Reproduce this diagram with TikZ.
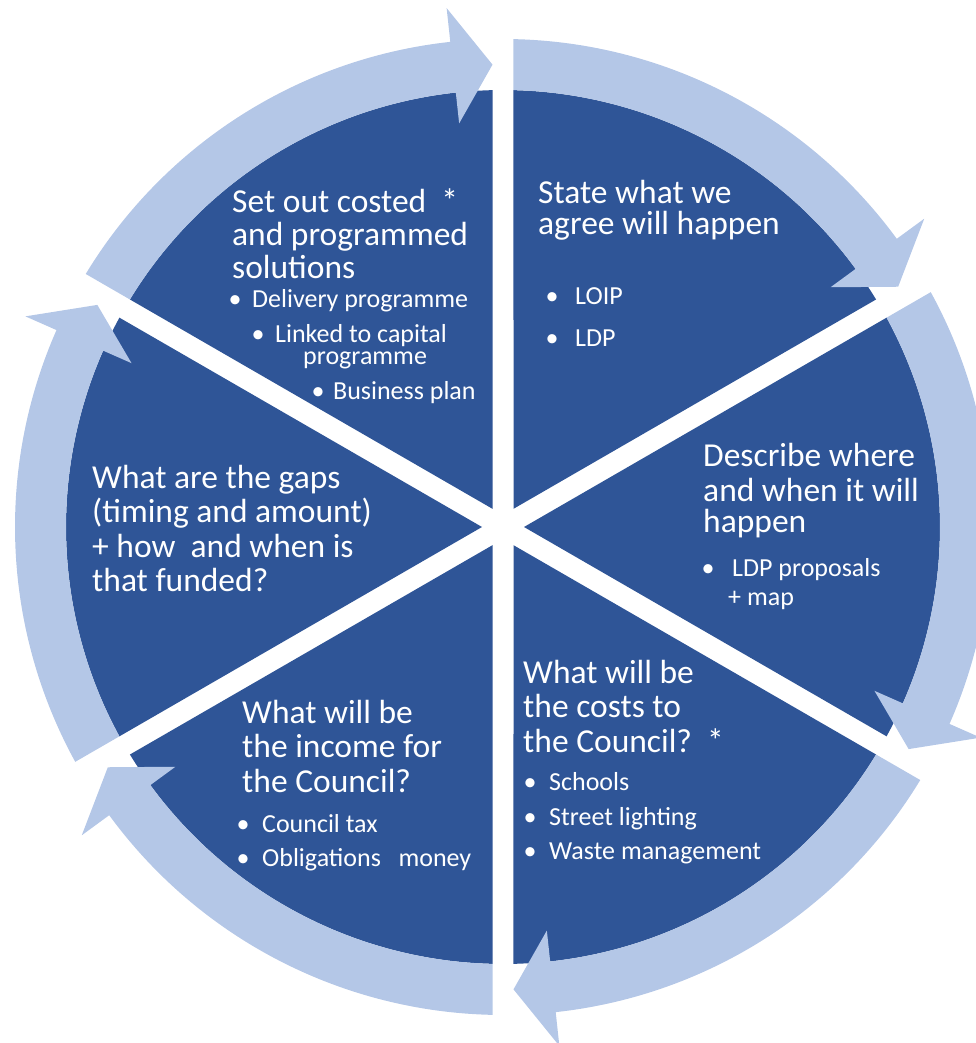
\documentclass[tikz,border=0pt]{standalone}
\usepackage{fontspec}
\setmainfont{Carlito}
\definecolor{darkblue}{HTML}{2F5597}
\definecolor{lightblue}{HTML}{B4C7E7}
\newcommand\bul[1]{\llap{\makebox[#1pt][c]{•}}}
\begin{document}
\begin{tikzpicture}[x=1pt,y=1pt,
  head/.style={font=\fontsize{33.5}{34}\selectfont, text=white, anchor=base west, inner sep=0pt},
  item/.style={font=\fontsize{26}{26}\selectfont, text=white, anchor=base west, inner sep=0pt},
  sector/.style={fill=darkblue},
  ringarrow/.style={fill=lightblue}]
\useasboundingbox (-503pt,-516pt) rectangle (473pt,527pt);
\clip (-503pt,-516pt) rectangle (473pt,527pt);
% pie sectors
\foreach \a in {90,30,-30,-90,-150,150}{
  \fill[sector] ({\a+30}:21pt) -- ({\a+1.377}:437pt)
     arc[start angle={\a+1.377}, end angle={\a+58.623}, radius=437pt] -- cycle;
}
% circular arrows
\foreach \a in {90,30,-30,-90,-150,150}{
  \fill[ringarrow] ({\a+58.767}:488pt)
     arc[start angle={\a+58.767}, end angle={\a+6.2}, radius=488pt]
     -- ({\a+6.2}:522pt) -- ({\a+1.3}:462.5pt) -- ({\a+6.2}:406pt)
     -- ({\a+6.2}:437pt)
     arc[start angle={\a+6.2}, end angle={\a+58.623}, radius=437pt] -- cycle;
}
\begin{scope}[shift={(-503pt,527pt)}, x=1pt, y=-1pt]
% top left
\node[head] (tl1) at (232,213) {Set out costed~~*};
\node[head] (tl2) at (232,246) {and programmed};
\node[head] (tl3) at (232,279) {solutions};
\node[item] (tl4) at (252,308) {\bul{34}Delivery programme};
\node[item] (tl5) at (275,343) {\bul{34}Linked to capital};
\node[item] (tl6) at (303,365) {programme};
\node[item] (tl7) at (333,400) {\bul{30}Business plan};
% top right
\node[head] (tr1) at (538,204) {State what we};
\node[head] (tr2) at (538,235) {agree will happen};
\node[item] (tr3) at (575,305) {\bul{46}LOIP};
\node[item] (tr4) at (575,347) {\bul{46}LDP};
% right
\node[head] (r1) at (703,467) {Describe where};
\node[head] (r2) at (703,502) {and when it will};
\node[head] (r3) at (703,533) {happen};
\node[item] (r4) at (732,577) {\bul{48}LDP proposals};
\node[item] (r5) at (728,605) {+ map};
% bottom right
\node[head] (br1) at (523,683) {What will be};
\node[head] (br2) at (523,717) {the costs to};
\node[head] (br3) at (523,752) {the Council?~~*};
\node[item] (br4) at (549,790) {\bul{38}Schools};
\node[item] (br5) at (549,825) {\bul{38}Street lighting};
\node[item] (br6) at (549,859) {\bul{38}Waste management};
% bottom left
\node[head] (bl1) at (242,723) {What will be};
\node[head] (bl2) at (242,757) {the income for};
\node[head] (bl3) at (242,792) {the Council?};
\node[item] (bl4) at (262,832) {\bul{38}Council tax};
\node[item] (bl5) at (262,866) {\bul{38}Obligations~~~money};
% left
\node[head] (l1) at (92,489) {What are the gaps};
\node[head] (l2) at (92,523) {(timing and amount)};
\node[head] (l3) at (92,558) {+ how~~and when is};
\node[head] (l4) at (92,592) {that funded?};
\end{scope}
\end{tikzpicture}
\end{document}
